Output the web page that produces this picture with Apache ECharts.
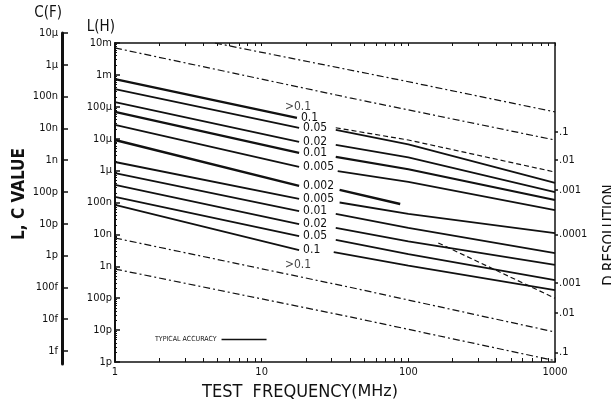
<!DOCTYPE html>
<html><head><meta charset="utf-8">
<script src="https://cdn.jsdelivr.net/npm/echarts@6/dist/echarts.min.js"></script>
<style>html,body{margin:0;padding:0;background:#fff}#c{width:611px;height:406px}</style>
</head><body><div id="c"></div>
<script>
// ---- axis ticks / labels ----
const freqLabelTicks = [1, 10, 100, 1000];
const freqTicks = [1,2,3,4,5,6,7,8,9,10,20,30,40,50,60,70,80,90,100,200,300,400,500,600,700,800,900,1000];
const lTickValues = [1e-2,1e-3,1e-4,1e-5,1e-6,1e-7,1e-8,1e-9,1e-10,1e-11,1e-12];
const lTickLabels = ['10m','1m','100µ','10µ','1µ','100n','10n','1n','100p','10p','1p'];
const cTickValues = [1e-5,1e-6,1e-7,1e-8,1e-9,1e-10,1e-11,1e-12,1e-13,1e-14,1e-15];
const cTickLabels = ['10µ','1µ','100n','10n','1n','100p','10p','1p','100f','10f','1f'];
// D resolution scale (read at 1000 MHz, placed at the L value it corresponds to)
const dResTickL = [1.6e-5, 2.2e-6, 2.5e-7, 1e-8, 3e-10, 3.4e-11, 2e-12];
const dResLabels = ['.1','.01','.001','.0001','.001','.01','.1'];

// ---- D contour lines: [MHz, L(H)] ----
const dLabels = ['0.1','0.05','0.02','0.01','0.005','0.002','0.005','0.01','0.02','0.05','0.1'];
const lowFreqSegments = [
  [[1,7.4e-4],[17.4,4.5e-5]],
  [[1,3.6e-4],[18,2.2e-5]],
  [[1,1.4e-4],[18,7.9e-6]],
  [[1,6.9e-5],[18,3.6e-6]],
  [[1,2.7e-5],[18,1.3e-6]],
  [[1,9.1e-6],[18,3.3e-7]],
  [[1,1.86e-6],[18,1.3e-7]],
  [[1,8.4e-7],[18,5.4e-8]],
  [[1,3.54e-7],[18,2.1e-8]],
  [[1,1.49e-7],[18,8.9e-9]],
  [[1,8.4e-8],[18,3.2e-9]]
];
const highFreqSegments = [
  null,
  [[32,1.9e-5],[100,6.6e-6],[1000,4.1e-7]],
  [[32,6.4e-6],[100,2.6e-6],[1000,2.1e-7]],
  [[32,2.7e-6],[100,1.1e-6],[1000,1.2e-7]],
  [[33,9.7e-7],[100,4.4e-7],[1000,5.8e-8]],
  [[34,2.5e-7],[88,9e-8]],
  [[34,1.0e-7],[100,4.4e-8],[1000,1.1e-8]],
  [[32,4.4e-8],[100,1.6e-8],[1000,2.6e-9]],
  [[32,1.6e-8],[100,6.0e-9],[1000,1.1e-9]],
  [[32,6.7e-9],[100,2.4e-9],[1000,3.7e-10]],
  [[31,2.8e-9],[100,1.05e-9],[1000,1.8e-10]]
];
const lineWidths = [2.4,1.8,1.8,2.2,1.8,2.4,1.8,1.8,1.8,1.8,1.8];
// ---- dashed limit lines ----
const dashedA = [[1,7.0e-3],[40,1.9e-4],[1000,9.1e-6]];
const dashedB = [[4.8,1e-2],[88,6.9e-4],[1000,6.9e-5]];
const dashedUpper = [[32,2.2e-5],[100,9.1e-6],[1000,9.0e-7]];
const dashedLower = [[160,5.4e-9],[1000,1.0e-10]];
const dashedC = [[1,7.7e-9],[40,2.2e-10],[1000,8.7e-12]];
const dashedD = [[1,8.2e-10],[40,2.6e-11],[1000,1.1e-12]];
const regionLabelPoints = [[14.4,1.0e-4],[14.4,1.1e-9]];
const regionLabelText = ['>0.1','>0.1'];

const FONT = '"DejaVu Sans Condensed","Liberation Sans Narrow","DejaVu Sans",sans-serif';
const INK = '#111';

const lMinorTicks = [];
for (let e = -12; e < -2; e++) for (let m = 2; m <= 9; m++) lMinorTicks.push(m * Math.pow(10, e));

function lookup(vals, labels, v) {
  let best = 0, bd = Infinity;
  vals.forEach((t, i) => { const d = Math.abs(Math.log10(t / v)); if (d < bd) { bd = d; best = i; } });
  return bd < 0.02 ? labels[best] : '';
}

const series = [];
lowFreqSegments.forEach((seg, i) => {
  series.push({
    type: 'line', name: 'TYPICAL ACCURACY', xAxisIndex: 0, yAxisIndex: 0, data: seg,
    symbol: 'none', silent: true,
    lineStyle: { color: INK, width: lineWidths[i] }, itemStyle: { color: INK },
    endLabel: { show: true, formatter: () => dLabels[i], distance: 4, color: INK, fontSize: 12, fontFamily: FONT }
  });
  if (highFreqSegments[i]) {
    series.push({
      type: 'line', name: 'TYPICAL ACCURACY', xAxisIndex: 0, yAxisIndex: 0, data: highFreqSegments[i],
      symbol: 'none', silent: true,
      lineStyle: { color: INK, width: lineWidths[i] }, itemStyle: { color: INK }
    });
  }
});
[[dashedA,[7,3,2,3]],[dashedB,[7,3,2,3]],[dashedUpper,[5,3]],[dashedLower,[5,3]],[dashedC,[7,3,2,3]],[dashedD,[7,3,2,3]]].forEach(([d, dash]) => {
  series.push({
    type: 'line', name: 'limit', xAxisIndex: 0, yAxisIndex: 0, data: d, symbol: 'none', silent: true,
    lineStyle: { color: INK, width: 1.2, type: dash }
  });
});
series.push({
  type: 'scatter', name: 'region', xAxisIndex: 0, yAxisIndex: 0, symbolSize: 0, silent: true,
  data: regionLabelPoints,
  label: { show: true, position: 'right', distance: 0, formatter: p => regionLabelText[p.dataIndex], color: INK, fontSize: 12, fontFamily: FONT }
});

const chart = echarts.init(document.getElementById('c'), null, { renderer: 'canvas' });
chart.setOption({
  animation: false,
  backgroundColor: '#fff',
  textStyle: { fontFamily: FONT, color: INK },
  legend: {
    data: ['TYPICAL ACCURACY'], left: 150, top: 331, align: 'right', icon: 'rect',
    itemWidth: 45, itemHeight: 1.5, selectedMode: false,
    textStyle: { fontSize: 7, color: INK, fontFamily: FONT }
  },
  grid: [
    { left: 115, right: 56, top: 43, bottom: 44 },
    { left: 62, width: 1, top: 33, bottom: 42 }
  ],
  xAxis: [
    {
      type: 'log', gridIndex: 0, min: 1, max: 1000, position: 'bottom',
      name: '{a|TEST  FREQUENCY}{b|(MHz)}', nameLocation: 'middle', nameGap: 19,
      nameTextStyle: { padding: [0, 70, 0, 0], rich: { a: { fontSize: 18, fontFamily: FONT, color: INK }, b: { fontSize: 16, fontFamily: '"DejaVu Sans",sans-serif', color: INK } } },
      axisLine: { show: true, onZero: false, lineStyle: { color: INK, width: 1.5 } },
      axisTick: { show: true, inside: true, length: 4, customValues: freqTicks, lineStyle: { color: INK, width: 1 } },
      axisLabel: { show: true, customValues: freqLabelTicks, formatter: v => String(Math.round(v)), fontSize: 11, color: INK, fontFamily: FONT, margin: 5 },
      splitLine: { show: false }
    },
    {
      type: 'log', gridIndex: 0, min: 1, max: 1000, position: 'top',
      axisLine: { show: true, onZero: false, lineStyle: { color: INK, width: 1.5 } },
      axisTick: { show: true, inside: true, length: 3, customValues: freqTicks, lineStyle: { color: INK, width: 1 } },
      axisLabel: { show: false }, splitLine: { show: false }
    },
    { type: 'value', gridIndex: 1, show: false, min: 0, max: 1 }
  ],
  yAxis: [
    {
      type: 'log', gridIndex: 0, min: 1e-12, max: 1e-2, position: 'left',
      name: 'L(H)', nameLocation: 'end', nameGap: 16,
      nameTextStyle: { align: 'right', verticalAlign: 'middle', fontSize: 15, fontFamily: FONT, color: INK },
      axisLine: { show: true, onZero: false, lineStyle: { color: INK, width: 2 } },
      axisTick: { show: true, inside: true, length: 5, customValues: lTickValues, lineStyle: { color: INK, width: 1.5 } },
      axisLabel: { show: true, customValues: lTickValues, formatter: v => lookup(lTickValues, lTickLabels, v), fontSize: 11, color: INK, fontFamily: FONT, margin: 3 },
      splitLine: { show: false }
    },
    {
      type: 'log', gridIndex: 0, min: 1e-12, max: 1e-2, position: 'right',
      axisLine: { show: true, onZero: false, lineStyle: { color: INK, width: 1.5 } },
      axisTick: { show: true, inside: false, length: 3, customValues: dResTickL, lineStyle: { color: INK, width: 1.5 } },
      axisLabel: { show: true, customValues: dResTickL, formatter: v => lookup(dResTickL, dResLabels, v), fontSize: 11, color: INK, fontFamily: FONT, margin: 4 },
      splitLine: { show: false }
    },
    {
      type: 'log', gridIndex: 0, min: 1e-12, max: 1e-2, position: 'left',
      axisLine: { show: false },
      axisTick: { show: true, inside: true, length: 2, customValues: lMinorTicks, lineStyle: { color: INK, width: 1 } },
      axisLabel: { show: false }, splitLine: { show: false }
    },
    {
      type: 'log', gridIndex: 1, min: 3.9e-16, max: 1e-5, position: 'left',
      name: 'C(F)', nameLocation: 'end', nameGap: 20,
      nameTextStyle: { align: 'right', verticalAlign: 'middle', fontSize: 15, fontFamily: FONT, color: INK },
      axisLine: { show: true, onZero: false, lineStyle: { color: INK, width: 3 } },
      axisTick: { show: true, inside: true, length: 6, customValues: cTickValues, lineStyle: { color: INK, width: 1.5 } },
      axisLabel: { show: true, customValues: cTickValues, formatter: v => lookup(cTickValues, cTickLabels, v), fontSize: 11, color: INK, fontFamily: FONT, margin: 4 },
      splitLine: { show: false }
    }
  ],
  graphic: [
    { type: 'text', x: 20, y: 194, rotation: Math.PI / 2,
      style: { text: 'L, C VALUE', fontSize: 17, fontWeight: 'bold', fontFamily: FONT, fill: INK, align: 'center', verticalAlign: 'middle' } },
    { type: 'text', x: 610, y: 235, rotation: Math.PI / 2,
      style: { text: 'D RESOLUTION', fontSize: 15, fontFamily: FONT, fill: INK, align: 'center', verticalAlign: 'middle' } }
  ],
  series: series
});
</script></body></html>
